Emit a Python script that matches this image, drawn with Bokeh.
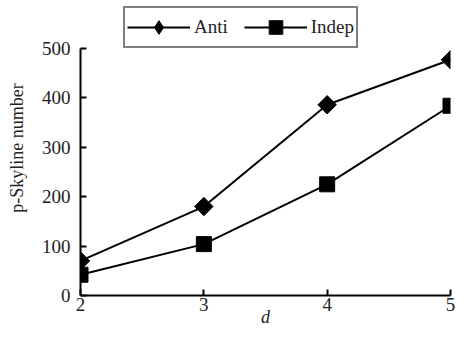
import math
from bokeh.plotting import figure
from bokeh.models import Legend, LegendItem, Range1d, FixedTicker
from bokeh.embed import file_html
from bokeh.resources import INLINE

d = [2, 3, 4, 5]
anti = [70, 180, 386, 477]
indep = [42, 104, 225, 384]
y_ticks = [0, 100, 200, 300, 400, 500]
x_ticks = [2, 3, 4, 5]

FONT = "Liberation Serif"

p = figure(width=456, height=331, output_backend="svg", toolbar_location=None,
           x_range=Range1d(2, 5), y_range=Range1d(0, 597),
           min_border_left=80, min_border_right=6, min_border_top=0, min_border_bottom=36)
p.outline_line_color = None
p.grid.visible = False
p.background_fill_color = "white"

a_line = p.line(d, anti, line_color="black", line_width=2)
a_mark = p.scatter(d, anti, marker="square", size=13, angle=math.pi / 4,
                   fill_color="black", line_color="black")
i_line = p.line(d, indep, line_color="black", line_width=2)
i_mark = p.scatter(d, indep, marker="square", size=15, fill_color="black", line_color="black")

# hidden renderers used only to draw the legend symbols
a_leg = p.scatter(d, anti, marker="diamond", fill_color="black", line_color="black", visible=False)
i_leg = p.scatter(d, indep, marker="square", fill_color="black", line_color="black", visible=False)

for ax in (p.xaxis[0], p.yaxis[0]):
    ax.axis_line_width = 2
    ax.axis_line_color = "black"
    ax.major_tick_line_width = 2
    ax.major_tick_in = 6
    ax.major_tick_out = 0
    ax.minor_tick_line_color = None
    ax.major_label_text_font = FONT
    ax.major_label_text_font_size = "19px"
    ax.major_label_text_color = "#222222"
    ax.axis_label_text_font = FONT
    ax.axis_label_text_font_size = "18px"
    ax.axis_label_text_font_style = "normal"
    ax.axis_label_text_color = "#222222"

p.xaxis.ticker = FixedTicker(ticks=x_ticks)
p.yaxis.ticker = FixedTicker(ticks=y_ticks)
p.yaxis.bounds = (0, 500)
p.xaxis.axis_label = "d"
p.xaxis.axis_label_text_font_style = "italic"
p.xaxis.axis_label_standoff = -7
p.xaxis.major_label_standoff = 2
p.yaxis.axis_label = "p-Skyline number"
p.yaxis.axis_label_standoff = 12
p.yaxis.major_label_standoff = 10

legend = Legend(items=[LegendItem(label="Anti", renderers=[a_line, a_leg]),
                       LegendItem(label="Indep", renderers=[i_line, i_leg])],
                orientation="horizontal", location=(43, 247),
                border_line_color="black", border_line_width=2,
                label_text_font=FONT, label_text_font_size="19px",
                label_text_color="#222222",
                glyph_width=63, glyph_height=34, spacing=16, padding=2,
                label_standoff=4, margin=0)
p.add_layout(legend, "center")

open("out.html", "w").write(file_html(p, INLINE))
